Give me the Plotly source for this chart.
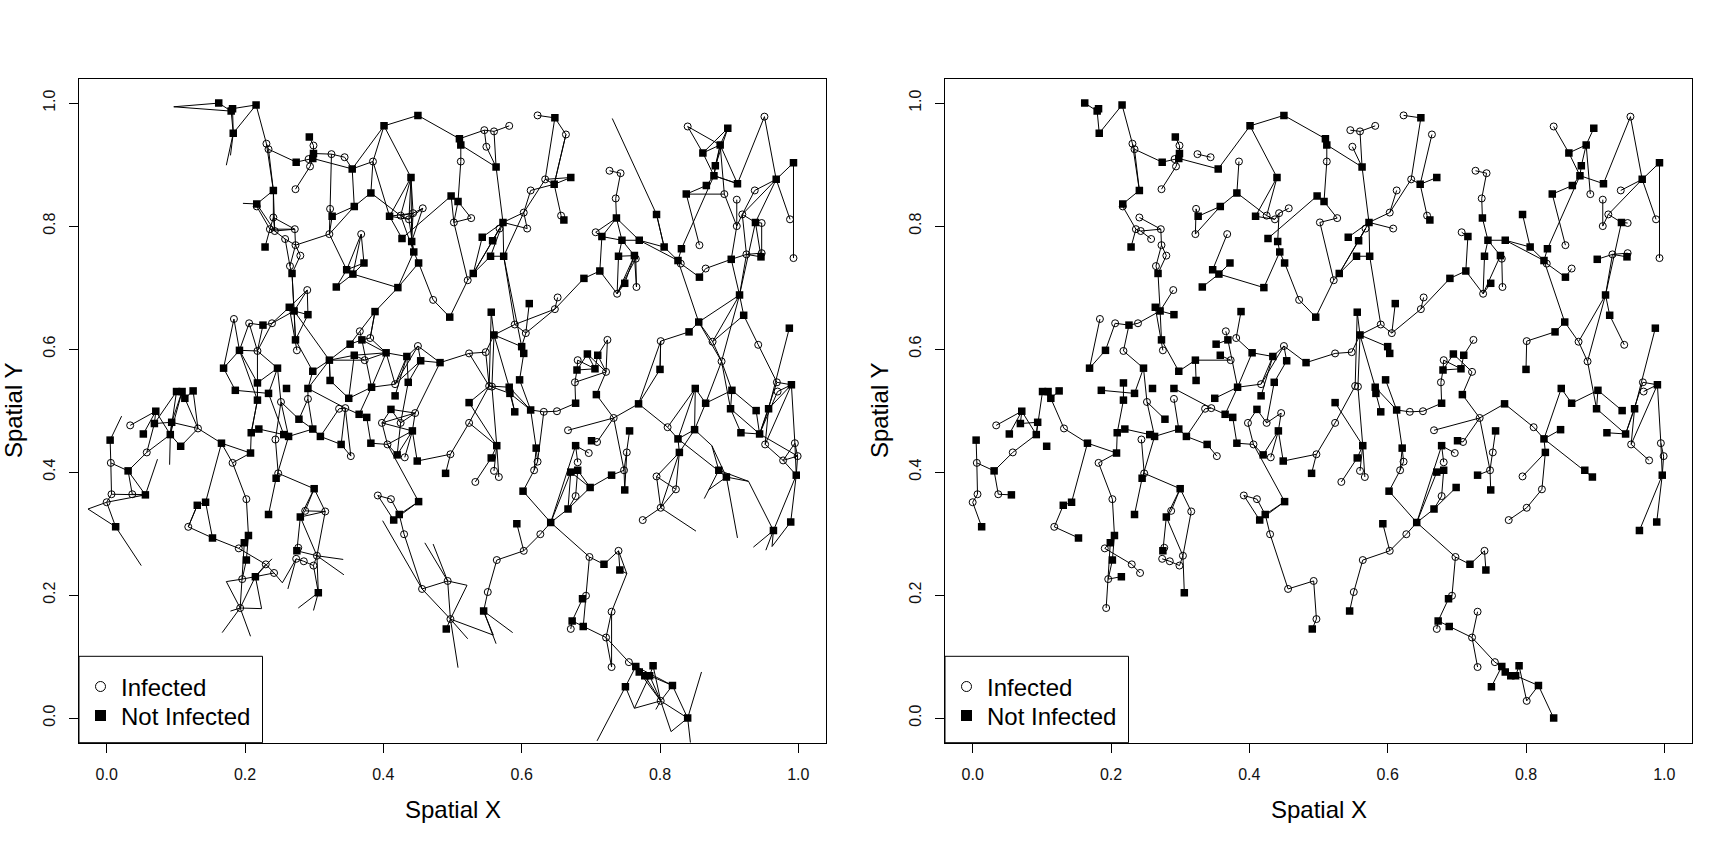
import plotly.graph_objects as go

# Nodes of the spatial network
infected_id = [6,7,10,13,16,17,18,19,20,25,
 30,31,33,34,35,36,43,50,51,52,
 53,54,55,57,58,59,61,66,67,69,
 70,73,78,82,83,87,90,96,97,98,
 102,108,115,120,124,126,127,128,130,134,
 137,138,141,143,144,145,147,152,156,157,
 161,162,165,166,167,168,169,172,174,175,
 177,185,186,187,188,189,190,192,194,195,
 196,197,198,199,202,203,204,205,208,209,
 211,214,219,221,222,223,225,233,235,236,
 239,240,242,243,248,249,250,259,260,263,
 264,268,270,273,274,275,276,278,279,280,
 282,283,287,288,289,291,294,297,298,301,
 302,308,399,318,319,321,325,326,327,329,
 330,333,335,336,337,341,344,346,348,349,
 350,352,353,356,358,360,363,365,366,367,
 368,375,378,382,383,384,385,391,392,393,394,180]
infected_x = [.231,.234,.217,.299,.292,.294,.273,.325,.344,.385,
 .323,.322,.425,.437,.443,.457,.472,.368,.241,.272,
 .236,.243,.258,.273,.280,.265,.290,.275,.239,.206,
 .184,.218,.373,.366,.381,.450,.417,.291,.336,.345,
 .446,.252,.034,.132,.006,.058,.007,.037,.000,.118,
 .182,.202,.191,.230,.242,.196,.193,.244,.353,.248,
 .287,.316,.277,.304,.274,.285,.299,.406,.398,.425,
 .431,.392,.411,.430,.456,.493,.497,.623,.664,.546,
 .560,.582,.549,.512,.527,.502,.613,.634,.603,.657,
 .608,.568,.522,.727,.743,.736,.707,.765,.766,.738,
 .652,.648,.606,.590,.548,.524,.840,.893,.857,.830,
 .866,.801,.951,.937,.911,.919,.911,.947,.988,.993,
 .925,.947,.942,.876,.889,.724,.681,.722,.677,.651,
 .632,.553,.557,.969,.970,.524,.560,.567,.533,.623,
 .618,.627,.603,.564,.551,.678,.681,.697,.709,.667,
 .733,.752,.748,.698,.740,.693,.671,.722,.730,.730,
 .755,.801,.811,.795,.823,.801,.775,.952,.978,.995,.999,.497]
infected_y = [.934,.925,.832,.931,.909,.897,.860,.917,.912,.905,
 .828,.787,.817,.811,.821,.829,.680,.787,.814,.795,
 .795,.792,.779,.769,.752,.735,.696,.598,.642,.642,
 .649,.597,.582,.629,.618,.605,.543,.519,.503,.504,
 .496,.514,.476,.471,.415,.432,.364,.364,.351,.311,
 .415,.356,.276,.250,.236,.226,.179,.453,.426,.398,
 .337,.336,.277,.264,.259,.255,.248,.445,.480,.480,
 .424,.362,.356,.299,.210,.223,.161,.980,.949,.956,
 .954,.963,.929,.905,.813,.806,.858,.876,.822,.817,
 .796,.796,.712,.890,.886,.845,.790,.747,.701,.690,
 .684,.665,.626,.640,.595,.593,.962,.852,.769,.739,
 .731,.613,.978,.858,.843,.819,.800,.805,.811,.748,
 .754,.756,.607,.612,.580,.615,.582,.563,.546,.499,
 .498,.540,.539,.546,.531,.480,.402,.392,.384,.417,
 .403,.299,.272,.257,.205,.361,.416,.431,.449,.468,
 .488,.432,.403,.262,.272,.199,.145,.131,.173,.083,
 .091,.028,.473,.393,.372,.342,.322,.445,.419,.447,.426,.429]

clear_id = [1,2,3,4,5,8,9,11,12,14,
 15,21,22,23,24,398,26,27,28,29,
 32,37,38,39,40,41,42,44,45,46,
 47,48,49,56,60,62,63,64,65,68,
 71,72,74,75,76,77,79,80,81,84,
 85,86,88,89,91,92,93,94,95,99,
 100,101,103,104,105,106,107,109,110,111,
 112,113,114,116,117,118,119,121,122,123,
 125,129,131,132,133,135,136,139,140,142,
 146,148,149,150,151,153,154,155,158,159,
 160,163,164,170,171,176,178,179,181,182,
 183,184,191,193,200,206,207,210,212,213,
 215,216,217,218,224,226,227,228,229,230,
 231,232,234,237,238,241,244,245,246,247,
 251,252,253,254,255,256,257,258,261,262,
 265,266,267,269,271,272,277,281,284,285,
 286,290,292,293,295,296,299,300,303,304,
 305,306,307,309,310,312,313,314,315,316,
 317,320,323,324,328,331,332,334,338,339,
 340,342,343,345,347,351,354,355,357,359,
 361,362,364,369,370,371,372,373,374,376,
 377,379,380,381,386,387,388,389,395,396,397]
clear_x = [.162,.182,.180,.183,.216,.241,.217,.274,.293,.299,
 .298,.355,.401,.450,.510,.512,.382,.440,.358,.326,
 .409,.498,.508,.427,.441,.444,.451,.496,.421,.356,
 .347,.372,.332,.229,.268,.264,.271,.291,.273,.226,
 .192,.169,.247,.298,.322,.323,.358,.352,.369,.388,
 .404,.434,.454,.482,.436,.417,.383,.350,.291,.365,
 .376,.411,.260,.218,.186,.234,.218,.278,.101,.109,
 .125,.113,.071,.069,.094,.053,.092,.107,.166,.005,
 .031,.056,.013,.143,.131,.153,.208,.205,.199,.202,
 .215,.209,.220,.256,.263,.298,.309,.339,.245,.234,
 .300,.280,.275,.306,.382,.442,.420,.449,.490,.451,
 .423,.415,.491,.648,.563,.647,.671,.661,.573,.543,
 .558,.555,.574,.530,.737,.716,.745,.770,.795,.806,
 .740,.763,.749,.713,.690,.611,.560,.556,.600,.603,
 .898,.887,.862,.880,.878,.867,.838,.912,.831,.826,
 .857,.856,.842,.800,.993,.968,.938,.903,.946,.915,
 .921,.987,.710,.695,.680,.706,.708,.678,.613,.597,
 .582,.583,.590,.524,.769,.851,.866,.904,.902,.939,
 .957,.990,.564,.556,.621,.602,.593,.642,.545,.667,
 .699,.671,.681,.678,.701,.756,.730,.749,.719,.742,
 .688,.673,.689,.765,.770,.778,.785,.790,.750,.818,
 .840,.826,.850,.828,.885,.896,.917,.944,.997,.964,.989]
clear_y = [1.0,.991,.987,.951,.997,.858,.836,.904,.945,.918,
 .910,.893,.963,.980,.942,.932,.854,.879,.832,.816,
 .816,.849,.840,.780,.775,.758,.740,.652,.700,.722,
 .729,.740,.701,.766,.723,.668,.662,.656,.615,.639,
 .598,.569,.569,.564,.582,.549,.590,.608,.615,.661,
 .594,.588,.581,.578,.546,.524,.538,.520,.536,.494,
 .489,.502,.536,.545,.533,.528,.517,.486,.531,.531,
 .532,.520,.499,.479,.481,.462,.461,.442,.447,.452,
 .402,.363,.311,.351,.346,.293,.431,.297,.285,.257,
 .230,.464,.470,.461,.458,.470,.458,.445,.390,.331,
 .373,.327,.272,.204,.447,.467,.428,.418,.398,.352,
 .331,.322,.145,.976,.896,.868,.879,.810,.806,.782,
 .776,.751,.751,.723,.813,.783,.777,.777,.819,.766,
 .751,.752,.707,.727,.715,.674,.623,.660,.604,.593,
 .959,.932,.919,.898,.882,.866,.852,.869,.763,.744,
 .717,.644,.628,.567,.903,.876,.806,.746,.750,.688,
 .655,.634,.590,.592,.566,.568,.526,.512,.501,.550,
 .538,.528,.498,.513,.511,.536,.512,.533,.503,.500,
 .503,.542,.443,.423,.439,.369,.316,.318,.174,.340,
 .375,.400,.403,.443,.451,.467,.395,.371,.250,.241,
 .194,.158,.149,.084,.075,.069,.069,.085,.051,.053,
 .000,.454,.469,.432,.403,.392,.464,.462,.395,.305,.319]

# Free line ends seen only in the left panel (no marker)
free_id = list(range(501, 548))
free_x = [.097,.173,.179,.197,.731,.875,.864,.870,.912,.928,
 .935,.953,.962,.852,.752,.763,.709,.816,.860,.844,
 .521,.522,.559,.563,.587,.508,.050,-.027,.0735,.0216,
 .091,.173,.224,.167,.208,.179,.239,.254,.262,.342,
 .343,.277,.299,.399,.460,.472,.794]
free_y = [.994,.899,.915,.837,.975,.443,.357,.371,.293,.385,
 .278,.273,.279,.304,.235,.016,-.037,-.022,.075,-.04,
 .216,.129,.135,.121,.139,.082,.248,.340,.421,.491,
 .412,.222,.178,.139,.133,.174,.259,.220,.210,.258,
 .233,.179,.175,.321,.285,.283,.014]

# Links drawn in both panels (each list is a chain of node ids)
shared_links = [
 [1,3,4,5,6,7,8,9,10,53,54,52,57,58,60,63],[6,8],[7,11,15,17,18],[12,13,14,15,21,22,23,24,398,200],[19,20],
 [398,199,38,37],[38,202,203,219,44],[218,219],[22,27,32,34,35,36],[27,33,34],[25,26,28,29,30,31,28],
 [26,33],[35,40,41,42,43,44],[39,37],[41,45,46,47,50],[46,48],[46,49],[53,56],[54,55],[51,52],[57,59,60],
 [61,63,62,65,66],[63,64],[63,65,75,76,77],[63,67,68,69,71,72,70],[68,73,74,106,105],[74,108,109],
 [76,78,79],[80,81,93,85,83,84],[81,82],[85,86,87,88,91,175],[87,89],[87,90,93,94],[86,92],[86,90],
 [93,99,100,171,172,174,101,175,102,176,178,172,182],[99,98,97,154,153,151,150,149,148,136,122,120,113,111],
 [95,98],[96,153],[104,107,148],[108,151,158,159],[154,155,156],[152,157,158],[157,160,161,163,164,165],
 [160,163,166,169,168,167],[160,162,166,170],[136,137,138,139,140,141,143,144],[139,142,145,146],[140,145,147],
 [122,132,133,134,135],[110,113,112],[110,119],[114,119,126,125,124,123],[114,118],[114,115],[114,116,117,119],
 [125,128,129],[124,127,130,131],[176,177],[176,179,180,181],[180,321,308,245,244,399,323,309],
 [182,183,184,182],[183,187,188,189,190,191],[185,186,183],[185,184],
 [244,243,242,241],[242,240,239],[240,238,237,226,225],[244,246,247],[244,248,249,89],[244,305,303,304],[305,306,307],
 [303,302,301,300,298,295,293,297,299,350,310,378,379],[294,295,296,294],[292,296],[291,292],
 [350,349],[350,348,347],[350,353,355],[351,352,353,354],[303,328,330,331,334],[328,329,330],
 [334,342,343,341,339,334],[339,340],[334,345,344],[345,346],[334,333,335,332],[335,336,337,338],
 [334,356,357,358,359],[356,360,361,362,363],[362,364,365,366],[365,367],[365,368,369,374],[369,370,371,372,376,377],
 [373,375,376],[373,372],[200,198],[200,196,195],[196,197],[200,212,208,204],[208,205,193,192],[194,206,205],
 [206,207],[206,209,210],[212,211],[212,213],[212,215,218,216,217,212],[214,215],[214,218],[217,243],
 [237,236,231,227,224,223,222,221],[236,234],[236,232,227,228,230,229],[232,233,235],[228,262,230],
 [262,261,255,254],[255,253,252,251],[252,259],[253,250],[252,254],[255,258,270,272,271,280],[255,256,257,260],
 [272,273],[272,275,276,274],[272,279],[275,277,278],[277,285,282,281],[282,283],[282,284],[285,286,287],
 [262,263,265,264],[262,266,267,268,269],[266,288,285],[288,289,285],[289,315,314,313,312,379],[314,316],
 [315,389,388],[389,317,290],[318,320,319],[320,393,394,395,393],[395,396],[395,397],[317,391,392],[320,391],[318,389],
 [379,380],[379,381,382],[379,386,387],[381,383,384,385],[323,324,327],[323,325],[323,326],
]

# Additional links drawn only in the left panel
extra_links = [
 [501,1],[501,3],[2,5],[2,4],[4,502],[4,503],[9,504],[8,51,53,52],[8,54],[51,54],[9,54],[55,57,31,47],[55,59],
 [29,31],[19,30],[21,28],[21,25,22],[25,32],[20,21],[14,19],[27,34],[27,35],[27,40],[32,39],[33,35],[34,36,40],
 [34,41],[33,41],[32,35],[48,50],[47,48],[46,50],[47,49],[45,42],[45,84,82,80,76,79,85],[84,83,81,85],[78,85],
 [63,76],[76,95,75],[76,77,94,79],[96,95],[96,109],[61,62],[61,64,65],[60,65],[62,67],[73,71,70],[73,69],[73,67],
 [71,104,74],[72,105],[73,107],[71,107],[86,91],[88,89,102,101],[85,90],[88,90],[110,116],[111,117],[111,119],[112,120],
 [24,195],[38,203],[37,203],[195,198],[193,194,206],[204,206],[205,207],[208,211],[208,217],[212,216],[213,218],
 [217,246],[243,240],[242,246],[247,304],[249,308,309],[248,308,305],[308,306],[305,307],[306,303],
 [224,225],[224,228],[226,227],[224,226],[231,232,234],[236,233],[232,235],[291,297],[292,297],[293,296],[298,297],
 [505,229,230],[250,252],[253,251],[252,258],[252,255],[254,251],[257,259,276,281,285],[258,255],[272,277],[273,275],
 [278,283],[277,284],[275,282],[264,281],[266,285],[266,289],[286,288],[287,318],[289,313],[289,314],
 [268,310,269],[268,269],[312,378],[312,380,313],[380,506,386],[506,387],[386,507],[387,508],[387,509],[387,510,396],
 [386,510],[396,511],[396,512],[396,513,397],[382,384,514],[382,383],[381,384],[380,381],[352,355],[354,340,343],
 [340,342],[342,339],[358,515,359],[515,366,367],[360,364],[369,376],[370,375],[371,375],[372,375,547],
 [374,516,372],[516,375],[374,517],[375,518,377],[375,377],[377,519],[377,520],[189,521,190],[190,522],[190,523,338],
 [338,524],[338,525],[190,526],[131,527],[130,528,131],[130,129],[127,129],[125,129,529],[123,530],[119,531],[119,121],
 [120,117],[120,121],[116,126],[122,137],[132,135,141],[134,133],[145,532,147],[146,147,533,146],[147,534],[147,535],
 [147,536],[143,146,537],[144,146],[144,538,167,539],[164,166,540],[166,541],[169,170,542],[170,543],[162,163],[161,162],
 [188,544],[188,190],[189,545],[189,546],[155,98,156],[175,178],[174,176],[172,176],[174,102],[106,150],[107,148],
 [108,152],[109,153],[302,329],[315,388],[316,389],[389,394],[392,393],[392,394],[395,392],[321,323],[320,317],[319,389],
]

tick_values = [0.0, 0.2, 0.4, 0.6, 0.8, 1.0]
tick_labels = ["0.0", "0.2", "0.4", "0.6", "0.8", "1.0"]
legend_labels = ["Infected", "Not Infected"]
axis_range = [-0.04, 1.04]

W, H = 1733, 841
FONT = "Liberation Sans"
position = {}
for ids, xs, ys in ((infected_id, infected_x, infected_y), (clear_id, clear_x, clear_y), (free_id, free_x, free_y)):
    assert len(ids) == len(xs) == len(ys), (len(ids), len(xs), len(ys))
    position.update({i: (a, b) for i, a, b in zip(ids, xs, ys)})


def link_coords(chains):
    xs, ys = [], []
    for chain in chains:
        for node in chain:
            xs.append(position[node][0])
            ys.append(position[node][1])
        xs.append(None)
        ys.append(None)
    return xs, ys


fig = go.Figure()
panels = [("x", "y", shared_links + extra_links), ("x2", "y2", shared_links)]
for xa, ya, chains in panels:
    lx, ly = link_coords(chains)
    fig.add_trace(go.Scatter(x=lx, y=ly, mode="lines", xaxis=xa, yaxis=ya, showlegend=False, hoverinfo="skip",
                             line=dict(color="black", width=1)))
    fig.add_trace(go.Scatter(x=infected_x, y=infected_y, mode="markers", xaxis=xa, yaxis=ya, showlegend=False,
                             marker=dict(symbol="circle-open", size=7, color="black", line=dict(width=1, color="black"))))
    fig.add_trace(go.Scatter(x=clear_x, y=clear_y, mode="markers", xaxis=xa, yaxis=ya, showlegend=False,
                             marker=dict(symbol="square", size=7.5, color="black", line=dict(width=0))))

top, bottom = 1 - 78.5 / H, 1 - 742.7 / H
dom1 = [79 / W, 826 / W]
dom2 = [945 / W, 1692 / W]
axis_common = dict(range=axis_range, autorange=False, showgrid=False, zeroline=False, showline=True, mirror=True,
                   linecolor="black", linewidth=1, ticks="outside", ticklen=9, tickwidth=1, tickcolor="black",
                   tickvals=tick_values, ticktext=tick_labels, tickfont=dict(family=FONT, size=16, color="#111"))
fig.update_layout(
    width=W, height=H, autosize=False, margin=dict(l=0, r=0, t=0, b=0), paper_bgcolor="white", plot_bgcolor="white",
    xaxis=dict(domain=dom1, anchor="y", ticklabelstandoff=8, **axis_common),
    yaxis=dict(domain=[bottom, top], anchor="x", tickangle=-90, ticklabelstandoff=8, **axis_common),
    xaxis2=dict(domain=dom2, anchor="y2", ticklabelstandoff=8, **axis_common),
    yaxis2=dict(domain=[bottom, top], anchor="x2", tickangle=-90, ticklabelstandoff=8, **axis_common),
    showlegend=False,
)

for xa, ya, dom in (("x", "y", dom1), ("x2", "y2", dom2)):
    mid = (dom[0] + dom[1]) / 2
    fig.add_annotation(text="Spatial X", xref="paper", yref="paper", x=mid, y=1 - 809 / H, showarrow=False,
                       xanchor="center", yanchor="middle", font=dict(family=FONT, size=24, color="black"))
    fig.add_annotation(text="Spatial Y", xref="paper", yref="paper", x=(dom[0] * W - 65.5) / W, y=(top + bottom) / 2,
                       showarrow=False, textangle=-90, xanchor="center", yanchor="middle",
                       font=dict(family=FONT, size=24, color="black"))
    # legend box and entries
    x0 = dom[0] * W
    fig.add_shape(type="rect", xref="paper", yref="paper", x0=x0 / W, x1=(x0 + 183.5) / W,
                  y0=bottom, y1=1 - 656.3 / H, line=dict(color="black", width=1), fillcolor="white", layer="above")
    fig.add_annotation(text=legend_labels[0], xref="paper", yref="paper", x=(x0 + 39.7) / W, y=1 - 687.5 / H, showarrow=False,
                       xanchor="left", yanchor="middle", font=dict(family=FONT, size=24, color="black"))
    fig.add_annotation(text=legend_labels[1], xref="paper", yref="paper", x=(x0 + 39.7) / W, y=1 - 716.5 / H, showarrow=False,
                       xanchor="left", yanchor="middle", font=dict(family=FONT, size=24, color="black"))
    cx, cy1, cy2 = x0 + 21.5, 686.5, 715.5
    fig.add_shape(type="circle", xref="paper", yref="paper", x0=(cx - 5) / W, x1=(cx + 5) / W, y0=1 - (cy1 + 5) / H,
                  y1=1 - (cy1 - 5) / H, line=dict(color="black", width=1), fillcolor="white", layer="above")
    fig.add_shape(type="rect", xref="paper", yref="paper", x0=(cx - 5.5) / W, x1=(cx + 5.5) / W, y0=1 - (cy2 + 5.5) / H,
                  y1=1 - (cy2 - 5.5) / H, line=dict(color="black", width=0), fillcolor="black", layer="above")

fig.write_html("out.html", config={"displayModeBar": False},
               post_script="document.body.style.margin='0';document.body.style.overflow='hidden';")
